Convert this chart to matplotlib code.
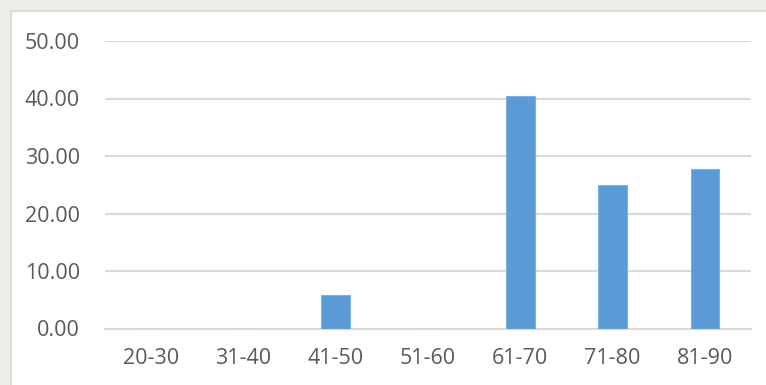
import matplotlib
matplotlib.use("Agg")
import matplotlib.pyplot as plt
from matplotlib.patches import Rectangle
from matplotlib.ticker import FixedLocator, FuncFormatter

categories = ["20-30", "31-40", "41-50", "51-60", "61-70", "71-80", "81-90"]
values = [0.0, 0.0, 5.8, 0.0, 40.5, 25.0, 27.7]
y_ticks = [0, 10, 20, 30, 40, 50]

W, H = 766, 385
fig = plt.figure(figsize=(W / 100, H / 100), dpi=100)
fig.patch.set_facecolor("#eeede7")

# background axes holding the white chart area with light border
bg = fig.add_axes([0, 0, 1, 1], zorder=0)
bg.set_xlim(0, W)
bg.set_ylim(H, 0)
bg.axis("off")
bg.add_patch(Rectangle((10.5, 10.5), W + 20, H + 20, facecolor="white",
                       edgecolor="#d9d9d9", linewidth=1.5))

ax = fig.add_axes([105 / W, 1 - 328.5 / H, (751 - 105) / W, (328.5 - 41) / H],
                  zorder=1)
ax.set_facecolor("none")
x = list(range(len(categories)))
ax.bar(x, values, width=0.31, color="#5b9bd5", edgecolor="#7fb1e0",
       linewidth=0.8, zorder=3)

ax.set_xlim(-0.5, len(categories) - 0.5)
ax.set_ylim(0, 50)
ax.yaxis.set_major_locator(FixedLocator(y_ticks))
ax.yaxis.set_major_formatter(FuncFormatter(lambda v, p: f"{v:.2f}"))
ax.set_xticks(x)
ax.set_xticklabels(categories)
ax.grid(axis="y", color="#d9d9d9", linewidth=1.5, zorder=0)
for s in ["top", "right", "left"]:
    ax.spines[s].set_visible(False)
ax.spines["bottom"].set_color("#d9d9d9")
ax.spines["bottom"].set_linewidth(1.5)
ax.tick_params(axis="both", length=0, labelsize=15.5, colors="#595959")
ax.tick_params(axis="y", pad=18)
ax.tick_params(axis="x", pad=14)
for lab in ax.get_xticklabels() + ax.get_yticklabels():
    lab.set_fontfamily("Open Sans")

fig.savefig("out.png", dpi=100, facecolor=fig.get_facecolor())
